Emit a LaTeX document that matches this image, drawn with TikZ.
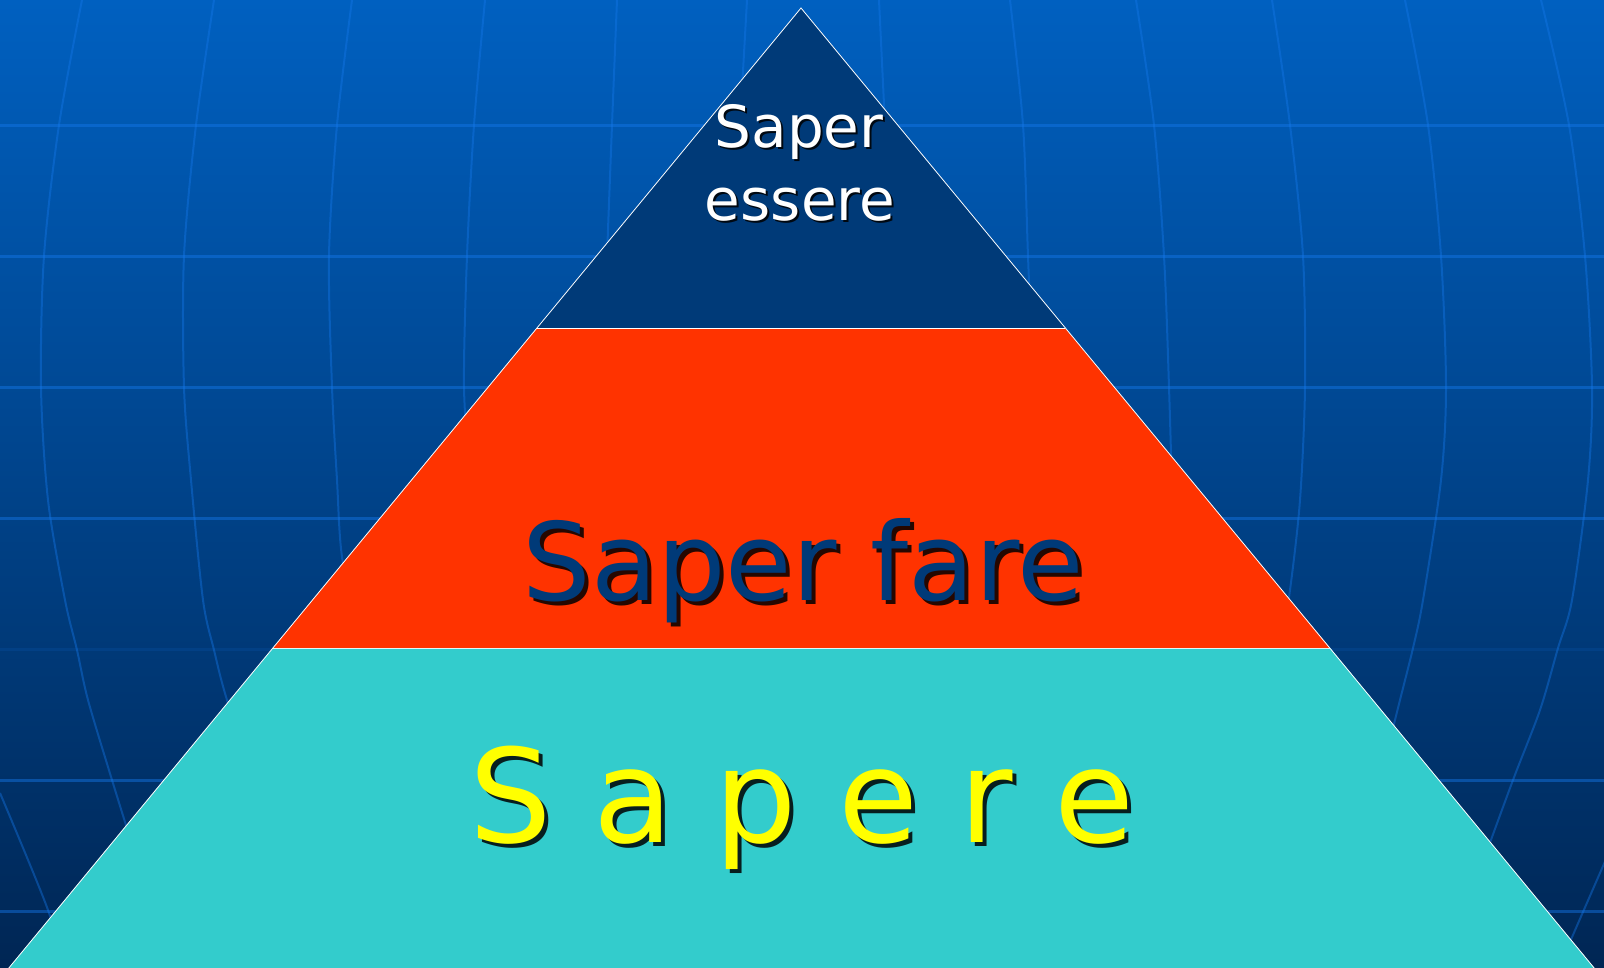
\documentclass[tikz,border=0pt]{standalone}
\usepackage{fontspec}
\setmainfont{DejaVu Sans}

\definecolor{navy}{RGB}{0,58,120}
\definecolor{fared}{RGB}{255,51,0}
\definecolor{sapteal}{RGB}{51,204,204}
\definecolor{sapyellow}{RGB}{255,255,0}
\definecolor{bgtop}{RGB}{0,96,192}
\definecolor{bgmid}{RGB}{0,74,152}
\definecolor{bgbot}{RGB}{0,38,84}
\definecolor{gridblue}{RGB}{20,120,235}

\begin{document}
\begin{tikzpicture}[x=1pt,y=-1pt,
    layer/.style={draw=white,line width=0.8pt},
    meridian/.style={draw=gridblue,draw opacity=0.4,line width=2pt},
    parallel/.style={draw=gridblue,draw opacity=0.45,line width=3pt},
    word/.style={anchor=base,inner sep=0pt},
    drop/.style={word,text=black,text opacity=0.85,xshift=4pt,yshift=-4pt}]

\useasboundingbox (0,0) rectangle (1604,967);
\clip (0,0) rectangle (1604,967);

% background
\fill[top color=bgtop,middle color=bgmid,bottom color=bgbot] (0,0) rectangle (1604,967);

\foreach \y in {125,256,387,518,780,911}
  \draw[parallel] (0,\y) -- (1604,\y);
\draw[parallel,draw opacity=0.12] (0,649) -- (1604,649);

\draw[meridian] plot[smooth] coordinates {(82,0) (59,125) (44,256) (41,387) (48,500) (65,600) (77,650) (88,700) (112,780) (140,870)};
\draw[meridian] plot[smooth] coordinates {(214,0) (196,125) (184,256) (184,387) (191,480) (203,600) (214,650) (227,700) (260,800)};
\draw[meridian] plot[smooth] coordinates {(352,0) (337,125) (329,256) (332,387) (337,480) (342,557) (360,650)};
\draw[meridian] plot[smooth] coordinates {(485,0) (474,125) (467,256) (464,387) (470,480)};
\draw[meridian] plot[smooth] coordinates {(617,0) (612,125) (607,256)};
\draw[meridian] plot[smooth] coordinates {(747,0) (740,125)};
\draw[meridian] plot[smooth] coordinates {(879,0) (885,125)};
\draw[meridian] plot[smooth] coordinates {(1010,0) (1023,125) (1028,256) (1033,387)};
\draw[meridian] plot[smooth] coordinates {(1136,0) (1154,125) (1164,256) (1169,387) (1172,500) (1172,600)};
\draw[meridian] plot[smooth] coordinates {(1272,0) (1290,125) (1303,256) (1305,387) (1300,500) (1290,590) (1280,650)};
\draw[meridian] plot[smooth] coordinates {(1405,0) (1428,125) (1441,256) (1446,387) (1441,480) (1423,600) (1413,648) (1400,700) (1375,800)};
\draw[meridian] plot[smooth] coordinates {(1541,0) (1569,125) (1585,256) (1592,387) (1588,480) (1572,600) (1558,648) (1540,710) (1513,780) (1480,870)};
\draw[meridian] plot[smooth] coordinates {(0,793) (48,910) (62,967)};
\draw[meridian] plot[smooth] coordinates {(1610,850) (1559,967)};

% pyramid
\coordinate (apex) at (801,8);
\coordinate (l1) at (537,328);
\coordinate (r1) at (1065,328);
\coordinate (l2) at (273,648);
\coordinate (r2) at (1330,648);
\coordinate (l3) at (8,969);
\coordinate (r3) at (1595,969);

\fill[sapteal] (l2) -- (r2) -- (r3) -- (l3) -- cycle;
\fill[fared] (l1) -- (r1) -- (r2) -- (l2) -- cycle;
\fill[navy] (apex) -- (r1) -- (l1) -- cycle;
\draw[layer] (l3) -- (apex) -- (r3);
\draw[layer] (l1) -- (r1);
\draw[layer,draw=white!85!sapteal] (l2) -- (r2);

% texts
\node[drop,xshift=-2pt,yshift=2pt,font=\fontsize{58}{70}\selectfont] (essere1-sh) at (799,147) {Saper};
\node[word,text=white,font=\fontsize{58}{70}\selectfont] (essere1) at (799,147) {Saper};
\node[drop,xshift=-2pt,yshift=2pt,font=\fontsize{58}{70}\selectfont] (essere2-sh) at (800,220) {essere};
\node[word,text=white,font=\fontsize{58}{70}\selectfont] (essere2) at (800,220) {essere};

\node[drop,font=\fontsize{108}{130}\selectfont] (fare-sh) at (803,600) {Saper fare};
\node[word,text=navy,font=\fontsize{108}{130}\selectfont] (fare) at (803,600) {Saper fare};

\node[drop,font=\fontsize{130}{156}\selectfont] (sapere-sh) at (802,842) {S a p e r e};
\node[word,text=sapyellow,font=\fontsize{130}{156}\selectfont] (sapere) at (802,842) {S a p e r e};
\end{tikzpicture}
\end{document}
